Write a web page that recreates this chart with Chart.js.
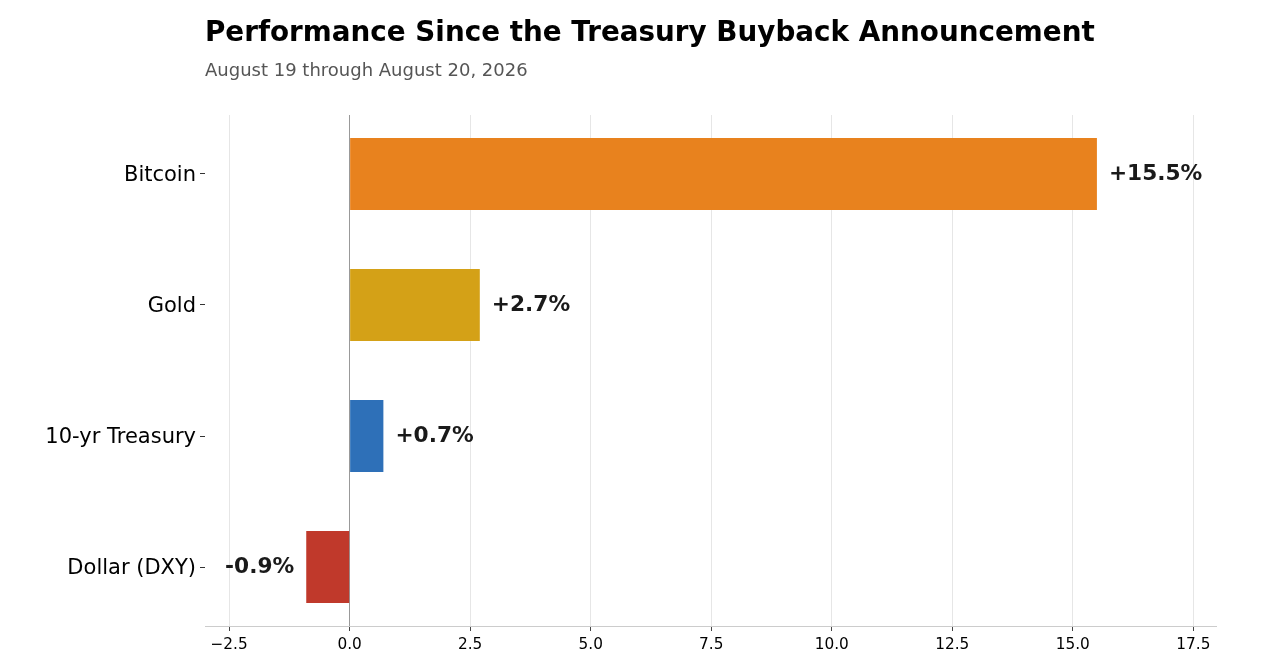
<!DOCTYPE html>
<html lang="en">
<head>
    <meta charset="UTF-8">
    <title>Performance Since the Treasury Buyback Announcement</title>
    <script src="https://cdn.jsdelivr.net/npm/chart.js"></script>
    <style>
        body {
            margin: 0;
            background: #ffffff;
            overflow: hidden;
        }
        .chart-box {
            position: relative;
            width: 1280px;
            height: 658px;
        }
    </style>
</head>
<body>
    <div class="chart-box">
        <canvas id="perfChart"></canvas>
    </div>
    <script>
        // Data
        const assets = ['Bitcoin', 'Gold', '10-yr Treasury', 'Dollar (DXY)'];
        const changes = [15.5, 2.7, 0.7, -0.9];
        const barColors = ['#E8821E', '#D4A117', '#2E70B8', '#C0392B'];
        const valueLabels = ['+15.5%', '+2.7%', '+0.7%', '-0.9%'];
        const xTicks = [-2.5, 0, 2.5, 5, 7.5, 10, 12.5, 15, 17.5];

        const titleText = 'Performance Since the Treasury Buyback Announcement';
        const subtitleText = 'August 19 through August 20, 2026';

        const FONT = "'DejaVu Sans', sans-serif";

        // Title + subtitle, left aligned with the plot area
        const headerPlugin = {
            id: 'header',
            afterDraw(chart) {
                const ctx = chart.ctx;
                const left = chart.chartArea.left;
                ctx.save();
                ctx.textAlign = 'left';
                ctx.textBaseline = 'alphabetic';
                ctx.fillStyle = '#000000';
                ctx.font = `bold 27.8px ${FONT}`;
                ctx.fillText(titleText, left, 41);
                ctx.fillStyle = '#555555';
                ctx.font = `18px ${FONT}`;
                ctx.fillText(subtitleText, left, 76);
                ctx.restore();
            }
        };

        // Value labels at the end of each bar
        const valueLabelPlugin = {
            id: 'valueLabels',
            afterDatasetsDraw(chart) {
                const ctx = chart.ctx;
                const meta = chart.getDatasetMeta(0);
                ctx.save();
                ctx.font = `bold 21.7px ${FONT}`;
                ctx.fillStyle = '#1a1a1a';
                ctx.textBaseline = 'middle';
                meta.data.forEach((bar, i) => {
                    const positive = changes[i] >= 0;
                    ctx.textAlign = positive ? 'left' : 'right';
                    const x = positive ? bar.x + 12 : bar.x - 12;
                    ctx.fillText(valueLabels[i], x, bar.y);
                });
                ctx.restore();
            }
        };

        const ctx = document.getElementById('perfChart').getContext('2d');

        new Chart(ctx, {
            type: 'bar',
            data: {
                datasets: [{
                    data: assets.map((a, i) => ({ y: i, x: changes[i] })),
                    backgroundColor: barColors,
                    borderWidth: 0,
                    barPercentage: 0.55,
                    categoryPercentage: 1
                }]
            },
            options: {
                indexAxis: 'y',
                responsive: true,
                maintainAspectRatio: false,
                animation: false,
                layout: {
                    padding: { top: 115, right: 64, bottom: 0, left: 0 }
                },
                plugins: {
                    legend: { display: false },
                    tooltip: { enabled: false }
                },
                scales: {
                    x: {
                        type: 'linear',
                        min: -3,
                        max: 17.97,
                        afterBuildTicks: (scale) => {
                            scale.ticks = xTicks.map(v => ({ value: v }));
                        },
                        afterFit: (scale) => {
                            scale.height = 32;
                        },
                        ticks: {
                            font: { family: FONT, size: 15.3 },
                            color: '#000000',
                            padding: 5,
                            callback: (v) => (v < 0 ? '\u2212' : '') + Math.abs(v).toFixed(1)
                        },
                        grid: {
                            color: (c) => (c.tick && c.tick.value === 0 ? '#999999' : '#e6e6e6'),
                            lineWidth: 1,
                            drawTicks: true,
                            tickLength: 5,
                            tickColor: '#444444'
                        },
                        border: {
                            display: true,
                            color: '#cccccc'
                        }
                    },
                    y: {
                        type: 'linear',
                        reverse: true,
                        offset: false,
                        min: -0.45,
                        max: 3.45,
                        afterBuildTicks: (scale) => {
                            scale.ticks = assets.map((a, i) => ({ value: i }));
                        },
                        afterFit: (scale) => {
                            scale.width = 205;
                        },
                        ticks: {
                            font: { family: FONT, size: 21 },
                            color: '#000000',
                            padding: 4,
                            labelOffset: 2,
                            callback: (v) => assets[v]
                        },
                        grid: {
                            offset: false,
                            drawOnChartArea: false,
                            drawTicks: true,
                            tickLength: 5,
                            tickColor: '#333333'
                        },
                        border: { display: false }
                    }
                }
            },
            plugins: [headerPlugin, valueLabelPlugin]
        });
    </script>
</body>
</html>
